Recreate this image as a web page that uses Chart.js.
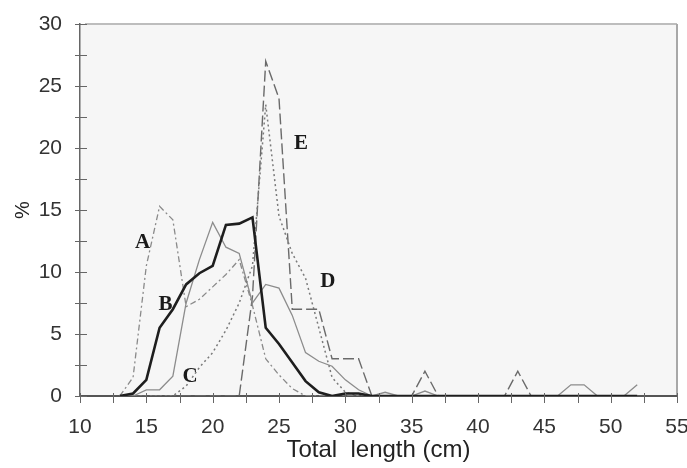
<!DOCTYPE html>
<html><head><meta charset="utf-8">
<script src="https://cdn.jsdelivr.net/npm/chart.js@4/dist/chart.umd.min.js"></script>
<style>html,body{margin:0;padding:0;background:#fff;} canvas{display:block;}</style>
</head><body>
<canvas id="c" width="687" height="468"></canvas>
<script>
// Total length classes (cm)
const lengths = [13,14,15,16,17,18,19,20,21,22,23,24,25,26,27,28,29,30,31,32,33,34,35,36,37,38,39,40,41,42,43,44,45,46,47,48,49,50,51,52];
// % frequency per series
const seriesA = [0,1.5,10.5,15.3,14.2,7.2,7.8,8.8,9.8,11,7.3,3,1.7,0.6,0, 0,0,0,0,0,0,0,0,0,0,0,0,0,0,0,0,0,0,0,0,0,0,0,0,0];
const seriesB = [0,0.2,1.3,5.5,7,9,9.9,10.5,13.8,13.9,14.4,5.5,4.2,2.7,1.2,0.3,0,0.2,0.2,0, 0,0,0,0,0,0,0,0,0,0,0,0,0,0,0,0,0,0,0,0];
const seriesC = [0,0,0,0,0,0.8,2.3,3.5,5.3,7.5,10.5,23.5,14.5,11.5,9.5,5.5,1.5,0.3,0, 0,0,0,0,0,0,0,0,0,0,0,0,0,0,0,0,0,0,0,0,0];
const seriesD = [0,0,0.5,0.5,1.6,7.5,11,14,12,11.5,7.5,9,8.7,6.5,3.5,2.8,2.4,1.3,0.5,0,0.3,0,0,0.4,0, 0,0,0,0,0,0,0,0,0, 0.9,0.9,0,0,0,0.9];
const seriesE = [0,0,0,0,0,0,0,0,0, 0,8,27,24,7,7,7,3,3,3,0,0,0,0,2,0, 0,0,0,0,0, 2, 0,0,0,0,0,0,0,0,0];

const xTickLabels = [10,15,20,25,30,35,40,45,50,55];
const yTickLabels = [0,5,10,15,20,25,30];
const xMinorTicks = [10,12.5,15,17.5,20,22.5,25,27.5,30,32.5,35,37.5,40,42.5,45,47.5,50,52.5,55];
const yMinorTicks = [0,2.5,5,7.5,10,12.5,15,17.5,20,22.5,25,27.5,30];

const curveLabels = ['A','B','C','D','E'];
const curveLabelX = [14.71,16.44,18.29,28.69,26.65];
const curveLabelY = [12.38,7.34,1.53,9.19,20.36];

function pts(arr){ return lengths.map((x,i)=>({x:x,y:arr[i]})); }

const frame = {
  id:'frame',
  beforeDraw(chart){
    const {ctx, chartArea:a} = chart;
    ctx.save();
    ctx.fillStyle = '#f6f6f6';
    ctx.fillRect(a.left, a.top, a.right-a.left, a.bottom-a.top);
    ctx.strokeStyle = '#bdbdbd'; ctx.lineWidth = 2;
    ctx.beginPath(); ctx.moveTo(a.left+5, a.top); ctx.lineTo(a.right, a.top); ctx.stroke();
    ctx.strokeStyle = '#a8a8a8';
    ctx.beginPath(); ctx.moveTo(a.right, a.top); ctx.lineTo(a.right, a.bottom); ctx.stroke();
    ctx.restore();
  },
  afterDraw(chart){
    const {ctx, chartArea:a, scales} = chart;
    const xs = scales.x, ys = scales.y;
    ctx.save();
    ctx.strokeStyle = '#666'; ctx.lineWidth = 1;
    xMinorTicks.forEach(v=>{
      const px = Math.round(xs.getPixelForValue(v))+0.5;
      ctx.beginPath(); ctx.moveTo(px, a.bottom-3); ctx.lineTo(px, a.bottom+7); ctx.stroke();
    });
    yMinorTicks.forEach(v=>{
      const py = Math.round(ys.getPixelForValue(v))+0.5;
      ctx.beginPath(); ctx.moveTo(a.left-5, py); ctx.lineTo(a.left+7, py); ctx.stroke();
    });
    ctx.fillStyle = '#1a1a1a';
    ctx.font = 'bold 21px "Liberation Serif", "Times New Roman", serif';
    ctx.textAlign = 'center'; ctx.textBaseline = 'middle';
    curveLabels.forEach((t,i)=>{
      ctx.fillText(t, xs.getPixelForValue(curveLabelX[i]), ys.getPixelForValue(curveLabelY[i]));
    });
    ctx.restore();
  }
};

const common = {pointRadius:0, tension:0, fill:false};
new Chart(document.getElementById('c'), {
  type:'line',
  data:{
    datasets:[
      Object.assign({label:'B', data:pts(seriesB), borderColor:'#1e1e1e', borderWidth:2.6}, common),
      Object.assign({label:'A', data:pts(seriesA), borderColor:'#8a8a8a', borderWidth:1.3, borderDash:[6,3,2,3]}, common),
      Object.assign({label:'C', data:pts(seriesC), borderColor:'#7a7a7a', borderWidth:1.5, borderDash:[2,3]}, common),
      Object.assign({label:'D', data:pts(seriesD), borderColor:'#8c8c8c', borderWidth:1.3}, common),
      Object.assign({label:'E', data:pts(seriesE), borderColor:'#6a6a6a', borderWidth:1.4, borderDash:[11,4]}, common)
    ]
  },
  options:{
    responsive:false, animation:false, devicePixelRatio:1,
    layout:{padding:{top:24, right:10, left:0, bottom:0}},
    plugins:{legend:{display:false}, tooltip:{enabled:false}},
    scales:{
      x:{
        type:'linear', min:10, max:55,
        afterFit(s){ s.height = 72; s.paddingLeft = 0; s.paddingRight = 0; },
        afterBuildTicks(s){ s.ticks = xTickLabels.map(v=>({value:v})); },
        ticks:{stepSize:5, color:'#333', padding:19, maxRotation:0, font:{family:'"Liberation Sans", Arial, sans-serif', size:21}},
        grid:{display:false, drawTicks:false},
        border:{display:true, color:'#555', width:2},
        title:{display:true, text:'Total  length (cm)', color:'#222', padding:{top:0,bottom:3}, font:{family:'"Liberation Sans", Arial, sans-serif', size:24}}
      },
      y:{
        min:0, max:30,
        afterFit(s){ s.width = 80; s.paddingTop = 0; s.paddingBottom = 0; },
        afterBuildTicks(s){ s.ticks = yTickLabels.map(v=>({value:v})); },
        ticks:{stepSize:5, color:'#333', padding:18, font:{family:'"Liberation Sans", Arial, sans-serif', size:21}},
        grid:{display:false, drawTicks:false},
        border:{display:true, color:'#666', width:1.5},
        title:{display:true, text:'%', color:'#222', padding:{top:11,bottom:0}, font:{family:'"Liberation Sans", Arial, sans-serif', size:20}}
      }
    }
  },
  plugins:[frame]
});
</script>
</body></html>
